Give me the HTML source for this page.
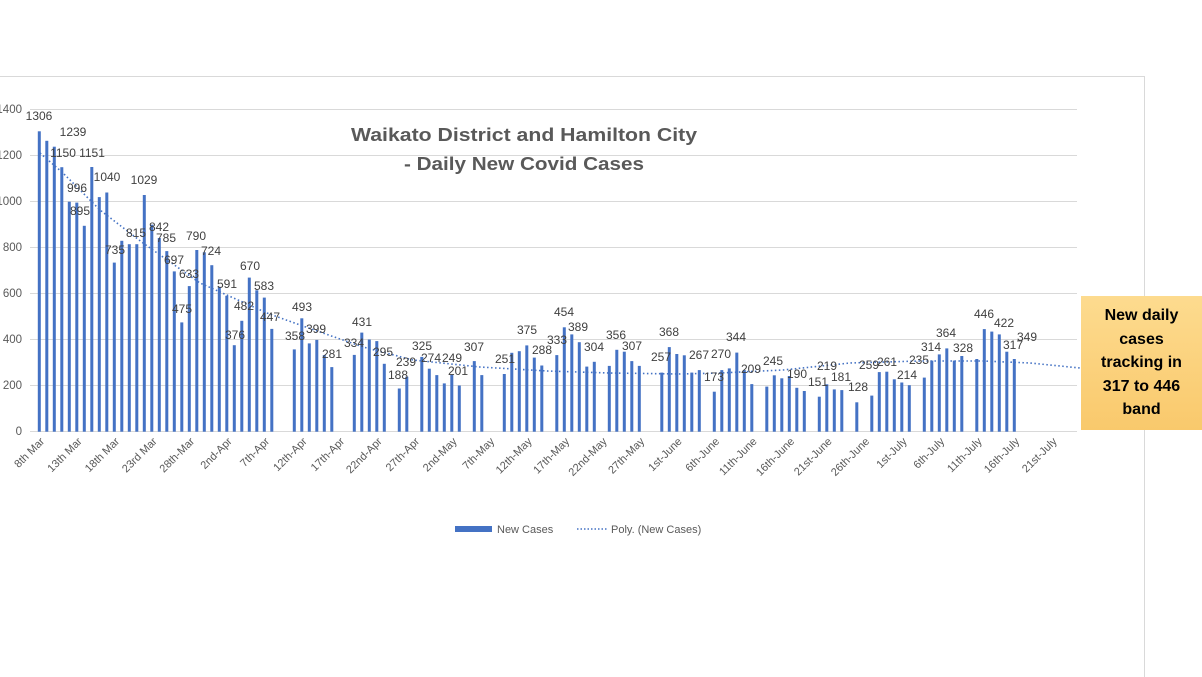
<!DOCTYPE html>
<html><head><meta charset="utf-8"><style>
html,body{margin:0;padding:0;background:#fff;}
svg{display:block;font-family:"Liberation Sans",sans-serif;}
.box{position:absolute;left:1081px;top:296px;width:121px;height:134px;background:linear-gradient(#fddb8f,#f9c96c);font:bold 16px/23.5px "Liberation Sans",sans-serif;color:#000;text-align:center;display:flex;align-items:center;justify-content:center;}
</style></head><body>
<div style="position:relative;width:1202px;height:677px;overflow:hidden">
<svg id="s" width="1202" height="677" viewBox="0 0 1202 677">
<line x1="0" y1="76.5" x2="1145" y2="76.5" stroke="#d9d9d9"/>
<line x1="1144.5" y1="76" x2="1144.5" y2="677" stroke="#d9d9d9"/>
<g stroke="#d9d9d9" stroke-width="1">
<line x1="30" x2="1077" y1="431.5" y2="431.5"/>
<line x1="30" x2="1077" y1="385.5" y2="385.5"/>
<line x1="30" x2="1077" y1="339.5" y2="339.5"/>
<line x1="30" x2="1077" y1="293.5" y2="293.5"/>
<line x1="30" x2="1077" y1="247.5" y2="247.5"/>
<line x1="30" x2="1077" y1="201.5" y2="201.5"/>
<line x1="30" x2="1077" y1="155.5" y2="155.5"/>
<line x1="30" x2="1077" y1="109.5" y2="109.5"/>
</g>
<g font-size="11.5" fill="#595959" text-anchor="end">
<text x="22" y="435">0</text><text x="22" y="389">200</text><text x="22" y="343">400</text><text x="22" y="297">600</text><text x="22" y="251">800</text><text x="22" y="205">1000</text><text x="22" y="159">1200</text><text x="22" y="113">1400</text>
</g>
<g id="bars" fill="#4472c4"></g>
<polyline fill="none" stroke="#4472c4" stroke-width="1.6" stroke-dasharray="1.5,2.5" points="40,153 63,173 100,210 143,243 200,283 267,313 300,325 363,347 413,360 480,367 547,371 610,373 680,374 720,373 783,370 850,363 920,361 983,361 1030,363 1080,368"/>
<g font-size="12" fill="#404040" text-anchor="middle">
<text x="39" y="120">1306</text><text x="73" y="136">1239</text><text x="63" y="157">1150</text><text x="92" y="157">1151</text><text x="107" y="181">1040</text><text x="144" y="184">1029</text><text x="77" y="192">996</text><text x="80" y="215">895</text><text x="136" y="237">815</text><text x="159" y="231">842</text><text x="166" y="242">785</text><text x="115" y="254">735</text><text x="174" y="264">697</text><text x="196" y="240">790</text><text x="211" y="255">724</text><text x="189" y="278">633</text><text x="250" y="270">670</text><text x="227" y="288">591</text><text x="264" y="290">583</text><text x="244" y="310">482</text><text x="182" y="313">475</text><text x="270" y="321">447</text><text x="235" y="339">376</text>
<text x="302" y="311">493</text><text x="295" y="340">358</text><text x="316" y="333">399</text><text x="332" y="358">281</text><text x="362" y="326">431</text><text x="354" y="347">334</text><text x="383" y="356">295</text><text x="422" y="350">325</text><text x="431" y="362">274</text><text x="406" y="366">239</text><text x="398" y="379">188</text>
<text x="452" y="362">249</text><text x="458" y="375">201</text><text x="474" y="351">307</text><text x="505" y="363">251</text><text x="527" y="334">375</text><text x="542" y="354">288</text><text x="557" y="344">333</text><text x="564" y="316">454</text><text x="578" y="331">389</text><text x="594" y="351">304</text><text x="616" y="339">356</text><text x="632" y="350">307</text><text x="669" y="336">368</text><text x="661" y="361">257</text><text x="699" y="359">267</text><text x="721" y="358">270</text><text x="736" y="341">344</text><text x="714" y="381">173</text><text x="751" y="373">209</text><text x="773" y="365">245</text><text x="797" y="378">190</text><text x="827" y="370">219</text><text x="818" y="386">151</text><text x="841" y="381">181</text><text x="858" y="391">128</text><text x="869" y="369">259</text><text x="887" y="366">261</text><text x="919" y="364">235</text><text x="907" y="379">214</text><text x="931" y="351">314</text><text x="946" y="337">364</text><text x="963" y="352">328</text><text x="984" y="318">446</text><text x="1004" y="327">422</text><text x="1013" y="349">317</text><text x="1027" y="341">349</text>
</g>
<text x="524" y="141" font-size="18" font-weight="600" fill="#595959" text-anchor="middle" textLength="346" lengthAdjust="spacingAndGlyphs">Waikato District and Hamilton City</text>
<text x="524" y="170" font-size="18" font-weight="600" fill="#595959" text-anchor="middle" textLength="240" lengthAdjust="spacingAndGlyphs">- Daily New Covid Cases</text>
<rect x="455" y="526" width="37" height="6" fill="#4472c4"/>
<text x="497" y="533" font-size="11" fill="#595959">New Cases</text>
<line x1="577" y1="529" x2="607" y2="529" stroke="#4472c4" stroke-width="1.5" stroke-dasharray="1.5,2"/>
<text x="611" y="533" font-size="11" fill="#595959">Poly. (New Cases)</text>
<g font-size="11" fill="#595959" text-anchor="end">
<text transform="translate(45,442) rotate(-45)">8th Mar</text>
<text transform="translate(82.5,442) rotate(-45)">13th Mar</text>
<text transform="translate(120,442) rotate(-45)">18th Mar</text>
<text transform="translate(157.5,442) rotate(-45)">23rd Mar</text>
<text transform="translate(195,442) rotate(-45)">28th-Mar</text>
<text transform="translate(232.5,442) rotate(-45)">2nd-Apr</text>
<text transform="translate(270,442) rotate(-45)">7th-Apr</text>
<text transform="translate(307.5,442) rotate(-45)">12th-Apr</text>
<text transform="translate(345,442) rotate(-45)">17th-Apr</text>
<text transform="translate(382.5,442) rotate(-45)">22nd-Apr</text>
<text transform="translate(420,442) rotate(-45)">27th-Apr</text>
<text transform="translate(457.5,442) rotate(-45)">2nd-May</text>
<text transform="translate(495,442) rotate(-45)">7th-May</text>
<text transform="translate(532.5,442) rotate(-45)">12th-May</text>
<text transform="translate(570,442) rotate(-45)">17th-May</text>
<text transform="translate(607.5,442) rotate(-45)">22nd-May</text>
<text transform="translate(645,442) rotate(-45)">27th-May</text>
<text transform="translate(682.5,442) rotate(-45)">1st-June</text>
<text transform="translate(720,442) rotate(-45)">6th-June</text>
<text transform="translate(757.5,442) rotate(-45)">11th-June</text>
<text transform="translate(795,442) rotate(-45)">16th-June</text>
<text transform="translate(832.5,442) rotate(-45)">21st-June</text>
<text transform="translate(870,442) rotate(-45)">26th-June</text>
<text transform="translate(907.5,442) rotate(-45)">1st-July</text>
<text transform="translate(945,442) rotate(-45)">6th-July</text>
<text transform="translate(982.5,442) rotate(-45)">11th-July</text>
<text transform="translate(1020,442) rotate(-45)">16th-July</text>
<text transform="translate(1057.5,442) rotate(-45)">21st-July</text>
</g>
</svg>
<div class="box">New daily<br>cases<br>tracking in<br>317 to 446<br>band</div>
</div>
<script>
var d=[1306,1265,1239,1150,1000,996,895,1151,1020,1040,735,830,815,815,1029,900,842,785,697,475,633,790,780,724,630,591,376,482,670,615,583,447,null,null,358,493,384,399,333,281,null,null,334,431,401,394,295,null,188,239,null,325,274,246,210,249,201,null,307,246,null,null,251,343,350,375,322,288,null,333,454,423,389,283,304,null,286,356,348,307,286,null,null,257,368,338,332,257,268,null,174,268,275,344,268,207,null,196,245,232,242,191,177,null,152,206,184,181,null,128,null,157,259,261,228,214,202,null,235,309,336,362,309,329,null,316,446,435,423,348,316];
var g=document.getElementById('bars'),h='';
for(var i=0;i<d.length;i++){if(d[i]==null)continue;var x=39.3+7.5*i,y=431.7-d[i]*0.23;h+='<rect x="'+(x-1.5).toFixed(1)+'" y="'+y.toFixed(1)+'" width="3" height="'+(431.7-y).toFixed(1)+'"/>';}
g.innerHTML=h;
</script>
</body></html>
